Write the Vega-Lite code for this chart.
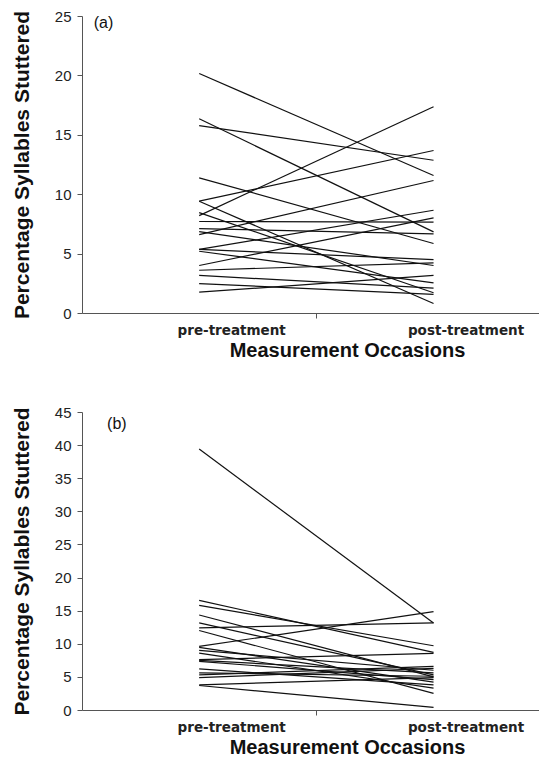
{
  "$schema": "https://vega.github.io/schema/vega-lite/v6.json",
  "background": "white",
  "padding": {"left": 11, "top": 9, "right": 0, "bottom": 0},
  "spacing": 44,
  "config": {
    "font": "Liberation Sans",
    "view": {"stroke": null},
    "axis": {"grid": false, "domainColor": "#555", "tickColor": "#555", "labelColor": "#222", "titleColor": "#111", "labelFont": "Liberation Sans", "titleFont": "Liberation Sans", "labelOverlap": false}
  },
  "datasets": {
    "a": [
      {"subject": 1, "session": 1, "pss": 20.16}, {"subject": 1, "session": 2, "pss": 11.57},
      {"subject": 2, "session": 1, "pss": 16.35}, {"subject": 2, "session": 2, "pss": 6.83},
      {"subject": 3, "session": 1, "pss": 15.78}, {"subject": 3, "session": 2, "pss": 12.86},
      {"subject": 4, "session": 1, "pss": 11.38}, {"subject": 4, "session": 2, "pss": 5.85},
      {"subject": 5, "session": 1, "pss": 9.41}, {"subject": 5, "session": 2, "pss": 13.68},
      {"subject": 6, "session": 1, "pss": 9.41}, {"subject": 6, "session": 2, "pss": 0.8},
      {"subject": 7, "session": 1, "pss": 8.45}, {"subject": 7, "session": 2, "pss": 1.7},
      {"subject": 8, "session": 1, "pss": 8.2}, {"subject": 8, "session": 2, "pss": 17.36},
      {"subject": 9, "session": 1, "pss": 7.7}, {"subject": 9, "session": 2, "pss": 7.65},
      {"subject": 10, "session": 1, "pss": 7.1}, {"subject": 10, "session": 2, "pss": 6.66},
      {"subject": 11, "session": 1, "pss": 6.85}, {"subject": 11, "session": 2, "pss": 4.0},
      {"subject": 12, "session": 1, "pss": 6.6}, {"subject": 12, "session": 2, "pss": 11.15},
      {"subject": 13, "session": 1, "pss": 5.35}, {"subject": 13, "session": 2, "pss": 8.65},
      {"subject": 14, "session": 1, "pss": 5.35}, {"subject": 14, "session": 2, "pss": 4.5},
      {"subject": 15, "session": 1, "pss": 5.2}, {"subject": 15, "session": 2, "pss": 2.54},
      {"subject": 16, "session": 1, "pss": 4.0}, {"subject": 16, "session": 2, "pss": 8.01},
      {"subject": 17, "session": 1, "pss": 3.6}, {"subject": 17, "session": 2, "pss": 4.22},
      {"subject": 18, "session": 1, "pss": 3.16}, {"subject": 18, "session": 2, "pss": 2.09},
      {"subject": 19, "session": 1, "pss": 2.48}, {"subject": 19, "session": 2, "pss": 1.56},
      {"subject": 20, "session": 1, "pss": 1.75}, {"subject": 20, "session": 2, "pss": 3.16}
    ],
    "b": [
      {"subject": 1, "session": 1, "pss": 39.4}, {"subject": 1, "session": 2, "pss": 13.15},
      {"subject": 2, "session": 1, "pss": 16.55}, {"subject": 2, "session": 2, "pss": 8.7},
      {"subject": 3, "session": 1, "pss": 15.8}, {"subject": 3, "session": 2, "pss": 9.7},
      {"subject": 4, "session": 1, "pss": 14.35}, {"subject": 4, "session": 2, "pss": 5.0},
      {"subject": 5, "session": 1, "pss": 13.15}, {"subject": 5, "session": 2, "pss": 5.3},
      {"subject": 6, "session": 1, "pss": 12.4}, {"subject": 6, "session": 2, "pss": 13.15},
      {"subject": 7, "session": 1, "pss": 12.0}, {"subject": 7, "session": 2, "pss": 2.5},
      {"subject": 8, "session": 1, "pss": 9.6}, {"subject": 8, "session": 2, "pss": 14.85},
      {"subject": 9, "session": 1, "pss": 9.45}, {"subject": 9, "session": 2, "pss": 4.2},
      {"subject": 10, "session": 1, "pss": 9.0}, {"subject": 10, "session": 2, "pss": 6.0},
      {"subject": 11, "session": 1, "pss": 8.6}, {"subject": 11, "session": 2, "pss": 3.3},
      {"subject": 12, "session": 1, "pss": 7.6}, {"subject": 12, "session": 2, "pss": 8.55},
      {"subject": 13, "session": 1, "pss": 7.5}, {"subject": 13, "session": 2, "pss": 5.6},
      {"subject": 14, "session": 1, "pss": 7.35}, {"subject": 14, "session": 2, "pss": 4.6},
      {"subject": 15, "session": 1, "pss": 6.2}, {"subject": 15, "session": 2, "pss": 3.8},
      {"subject": 16, "session": 1, "pss": 5.6}, {"subject": 16, "session": 2, "pss": 5.1},
      {"subject": 17, "session": 1, "pss": 5.3}, {"subject": 17, "session": 2, "pss": 6.6},
      {"subject": 18, "session": 1, "pss": 4.9}, {"subject": 18, "session": 2, "pss": 6.3},
      {"subject": 19, "session": 1, "pss": 3.8}, {"subject": 19, "session": 2, "pss": 4.9},
      {"subject": 20, "session": 1, "pss": 3.7}, {"subject": 20, "session": 2, "pss": 0.4}
    ]
  },
  "vconcat": [
    {
      "width": 457,
      "height": 297,
      "layer": [
        {
          "data": {"name": "a"},
          "mark": {"type": "line", "color": "#111", "strokeWidth": 1.2},
          "encoding": {
            "x": {"field": "session", "type": "quantitative", "scale": {"domain": [0.5, 2.45], "nice": false, "zero": false},
              "axis": {"values": [1, 1.5, 2], "labelExpr": "datum.value == 1 ? 'pre-treatment' : datum.value == 2 ? 'post-treatment' : ''",
                "tickOpacity": {"condition": {"test": "datum.value == 1.5", "value": 1}, "value": 0},
                "tickSize": 5, "labelOffset": 32, "labelFont": "DejaVu Sans", "labelFontSize": 13.5, "labelFontWeight": "bold", "labelPadding": 5,
                "title": "Measurement Occasions", "titleFontSize": 20, "titleFontWeight": "bold", "titlePadding": 4, "titleX": 265}},
            "y": {"field": "pss", "type": "quantitative", "scale": {"domain": [0, 25], "nice": false},
              "axis": {"values": [0, 5, 10, 15, 20, 25], "labelOverlap": false, "tickSize": 5, "labelFontSize": 15, "labelPadding": 6,
                "title": "Percentage Syllables Stuttered", "titleFontSize": 21, "titleFontWeight": "bold", "titlePadding": 22}},
            "detail": {"field": "subject", "type": "nominal"}
          }
        },
        {
          "data": {"values": [{"label": "(a)"}]},
          "mark": {"type": "text", "fontSize": 16, "align": "left", "baseline": "middle", "color": "#111"},
          "encoding": {
            "x": {"datum": 0.55, "type": "quantitative"},
            "y": {"datum": 24.4, "type": "quantitative",
              "axis": {"values": [0, 5, 10, 15, 20, 25], "labelOverlap": false, "tickSize": 5, "labelFontSize": 15, "labelPadding": 6,
                "title": "Percentage Syllables Stuttered", "titleFontSize": 21, "titleFontWeight": "bold", "titlePadding": 22}},
            "text": {"field": "label"}
          }
        }
      ]
    },
    {
      "width": 457,
      "height": 298,
      "layer": [
        {
          "data": {"name": "b"},
          "mark": {"type": "line", "color": "#111", "strokeWidth": 1.2},
          "encoding": {
            "x": {"field": "session", "type": "quantitative", "scale": {"domain": [0.5, 2.45], "nice": false, "zero": false},
              "axis": {"values": [1, 1.5, 2], "labelExpr": "datum.value == 1 ? 'pre-treatment' : datum.value == 2 ? 'post-treatment' : ''",
                "tickOpacity": {"condition": {"test": "datum.value == 1.5", "value": 1}, "value": 0},
                "tickSize": 5, "labelOffset": 32, "labelFont": "DejaVu Sans", "labelFontSize": 13.5, "labelFontWeight": "bold", "labelPadding": 5,
                "title": "Measurement Occasions", "titleFontSize": 20, "titleFontWeight": "bold", "titlePadding": 4, "titleX": 265}},
            "y": {"field": "pss", "type": "quantitative", "scale": {"domain": [0, 45], "nice": false},
              "axis": {"values": [0, 5, 10, 15, 20, 25, 30, 35, 40, 45], "labelOverlap": false, "tickSize": 5, "labelFontSize": 15, "labelPadding": 6,
                "title": "Percentage Syllables Stuttered", "titleFontSize": 21, "titleFontWeight": "bold", "titlePadding": 22}},
            "detail": {"field": "subject", "type": "nominal"}
          }
        },
        {
          "data": {"values": [{"label": "(b)"}]},
          "mark": {"type": "text", "fontSize": 16, "align": "left", "baseline": "middle", "color": "#111"},
          "encoding": {
            "x": {"datum": 0.607, "type": "quantitative"},
            "y": {"datum": 43.2, "type": "quantitative",
              "axis": {"values": [0, 5, 10, 15, 20, 25, 30, 35, 40, 45], "labelOverlap": false, "tickSize": 5, "labelFontSize": 15, "labelPadding": 6,
                "title": "Percentage Syllables Stuttered", "titleFontSize": 21, "titleFontWeight": "bold", "titlePadding": 22}},
            "text": {"field": "label"}
          }
        }
      ]
    }
  ]
}
